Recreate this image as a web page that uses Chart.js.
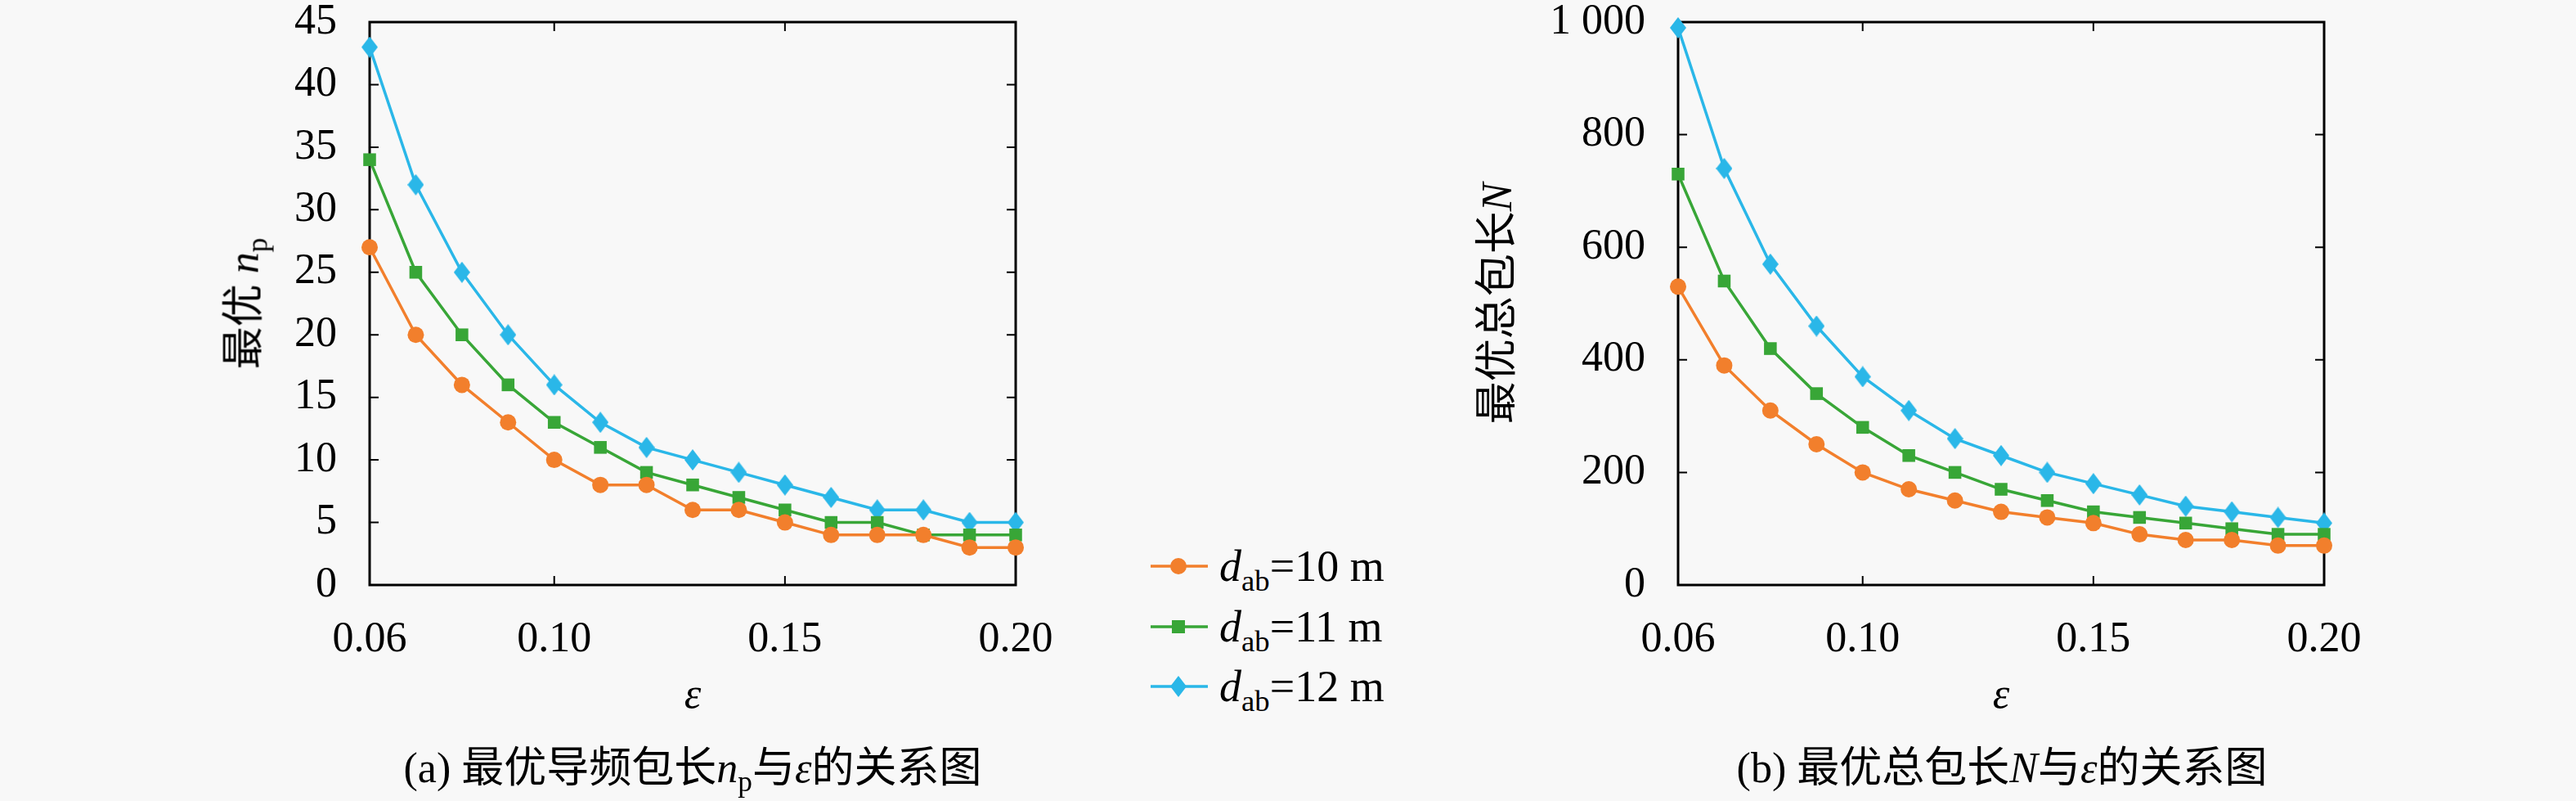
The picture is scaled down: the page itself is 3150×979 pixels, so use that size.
<!DOCTYPE html>
<html>
<head>
<meta charset="utf-8">
<script src="https://cdn.jsdelivr.net/npm/chart.js@4.4.1/dist/chart.umd.min.js"></script>
<style>
body{margin:0;width:3150px;height:979px;background:#f8f8f8;position:relative;overflow:hidden;
  font-family:"Liberation Serif","Noto Sans CJK SC",serif;color:#000}
.box{position:absolute;top:-30px;width:1020px;height:930px}
.ytitle{position:absolute;font-size:52px;white-space:nowrap;transform:translate(-50%,-50%) rotate(-90deg)}
.cap{position:absolute;top:933px;font-size:52px;white-space:nowrap;transform:translate(-50%,-50%)}
.leg{position:absolute;left:1407px;font-size:54px;white-space:nowrap;display:flex;align-items:center;transform:translateY(-50%)}
.leg svg{margin-right:14px}
sub{font-size:0.68em;vertical-align:-0.32em;line-height:0}
</style>
</head>
<body>
<div class="box" style="left:300px"><canvas id="c1"></canvas></div>
<div class="box" style="left:1900px"><canvas id="c2"></canvas></div>

<div class="ytitle" style="left:293px;top:371px">最优 <i>n</i><sub>p</sub></div>
<div class="ytitle" style="left:1825px;top:371px">最优总包长<i>N</i></div>

<div class="leg" style="top:692px"><svg width="70" height="30"><line x1="0" y1="15" x2="70" y2="15" stroke="#f27f2c" stroke-width="3.5"/><circle cx="34" cy="15" r="10" fill="#f27f2c"/></svg><span><i>d</i><sub>ab</sub>=10 m</span></div>
<div class="leg" style="top:766px"><svg width="70" height="30"><line x1="0" y1="15" x2="70" y2="15" stroke="#38a637" stroke-width="3.5"/><rect x="26" y="7" width="16" height="16" fill="#38a637"/></svg><span><i>d</i><sub>ab</sub>=11 m</span></div>
<div class="leg" style="top:839px"><svg width="70" height="30"><line x1="0" y1="15" x2="70" y2="15" stroke="#2ab7e8" stroke-width="3.5"/><polygon points="34,2 44,15 34,28 24,15" fill="#2ab7e8"/></svg><span><i>d</i><sub>ab</sub>=12 m</span></div>

<div class="cap" style="left:847px">(a) 最优导频包长<i>n</i><sub>p</sub>与<i>ε</i>的关系图</div>
<div class="cap" style="left:2448px">(b) 最优总包长<i>N</i>与<i>ε</i>的关系图</div>

<script>
// x values (epsilon)
var eps = [0.06, 0.07, 0.08, 0.09, 0.10, 0.11, 0.12, 0.13, 0.14, 0.15, 0.16, 0.17, 0.18, 0.19, 0.20];
var epsTicks = [0.06, 0.10, 0.15, 0.20];

// optimal pilot length n_p
var np10 = [27, 20, 16, 13, 10, 8, 8, 6, 6, 5, 4, 4, 4, 3, 3];
var np11 = [34, 25, 20, 16, 13, 11, 9, 8, 7, 6, 5, 5, 4, 4, 4];
var np12 = [43, 32, 25, 20, 16, 13, 11, 10, 9, 8, 7, 6, 6, 5, 5];

// optimal total length N
var N10 = [530, 390, 310, 250, 200, 170, 150, 130, 120, 110, 90, 80, 80, 70, 70];
var N11 = [730, 540, 420, 340, 280, 230, 200, 170, 150, 130, 120, 110, 100, 90, 90];
var N12 = [990, 740, 570, 460, 370, 310, 260, 230, 200, 180, 160, 140, 130, 120, 110];

var labels = ['d_ab=10 m', 'd_ab=11 m', 'd_ab=12 m'];
var colors = ['#f27f2c', '#38a637', '#2ab7e8'];

function diamond(w, h, color){
  var c = document.createElement('canvas');
  c.width = w; c.height = h;
  var g = c.getContext('2d');
  g.fillStyle = color;
  g.beginPath();
  g.moveTo(w/2, 0); g.lineTo(w, h/2); g.lineTo(w/2, h); g.lineTo(0, h/2);
  g.closePath(); g.fill();
  return c;
}

function pts(ys){
  return eps.map(function(x, i){ return {x: x, y: ys[i]}; });
}

// frame + inward ticks on all four sides
var frameTicks = {
  id: 'frameTicks',
  beforeDatasetsDraw: function(chart){
    var ctx = chart.ctx, a = chart.chartArea, L = 11;
    var xs = chart.scales.x, ys = chart.scales.y;
    ctx.save();
    ctx.strokeStyle = '#000';
    ctx.lineWidth = 2;
    ctx.beginPath();
    xs.ticks.forEach(function(t){
      var px = xs.getPixelForValue(t.value);
      ctx.moveTo(px, a.bottom); ctx.lineTo(px, a.bottom - L);
      ctx.moveTo(px, a.top); ctx.lineTo(px, a.top + L);
    });
    ys.ticks.forEach(function(t){
      var py = ys.getPixelForValue(t.value);
      ctx.moveTo(a.left, py); ctx.lineTo(a.left + L, py);
      ctx.moveTo(a.right, py); ctx.lineTo(a.right - L, py);
    });
    ctx.stroke();
    ctx.lineWidth = 3;
    ctx.strokeRect(a.left, a.top, a.right - a.left, a.bottom - a.top);
    ctx.restore();
  }
};

var tickFont = {family: '"Liberation Serif", serif', size: 52};

function makeChart(id, sets, yMax, yStep){
  var styles = ['circle', 'rect', diamond(20, 26, colors[2])];
  var radii = [10, 11, 10];
  return new Chart(document.getElementById(id), {
    type: 'line',
    data: {
      datasets: sets.map(function(s, i){
        return {
          label: labels[i],
          data: pts(s),
          borderColor: colors[i],
          backgroundColor: colors[i],
          borderWidth: 3.5,
          pointStyle: styles[i],
          pointRadius: radii[i],
          pointBorderWidth: 0,
          clip: false,
          tension: 0
        };
      })
    },
    options: {
      animation: false,
      responsive: true,
      maintainAspectRatio: false,
      layout: {padding: {top: 57, right: 78, left: 0, bottom: 17}},
      plugins: {legend: {display: false}, tooltip: {enabled: false}},
      scales: {
        x: {
          type: 'linear', min: 0.06, max: 0.20,
          grid: {display: false, drawTicks: false},
          border: {display: false},
          afterBuildTicks: function(s){ s.ticks = epsTicks.map(function(v){ return {value: v}; }); },
          afterFit: function(s){ s.height = 168; s.paddingLeft = 0; s.paddingRight = 0; },
          ticks: {font: tickFont, color: '#000', padding: 36, maxRotation: 0,
            callback: function(v){ return Number(v).toFixed(2); }},
          title: {display: true, text: 'ε', color: '#000', padding: 0,
            font: {family: '"Liberation Serif", serif', size: 52, style: 'italic'}}
        },
        y: {
          min: 0, max: yMax,
          grid: {display: false, drawTicks: false},
          border: {display: false},
          afterFit: function(s){ s.width = 152; s.paddingTop = 0; s.paddingBottom = 0; },
          ticks: {font: tickFont, color: '#000', padding: 40, stepSize: yStep,
            callback: function(v){ return v === 1000 ? '1 000' : v; }}
        }
      }
    },
    plugins: [frameTicks]
  });
}

makeChart('c1', [np10, np11, np12], 45, 5);
makeChart('c2', [N10, N11, N12], 1000, 200);
</script>
</body>
</html>
